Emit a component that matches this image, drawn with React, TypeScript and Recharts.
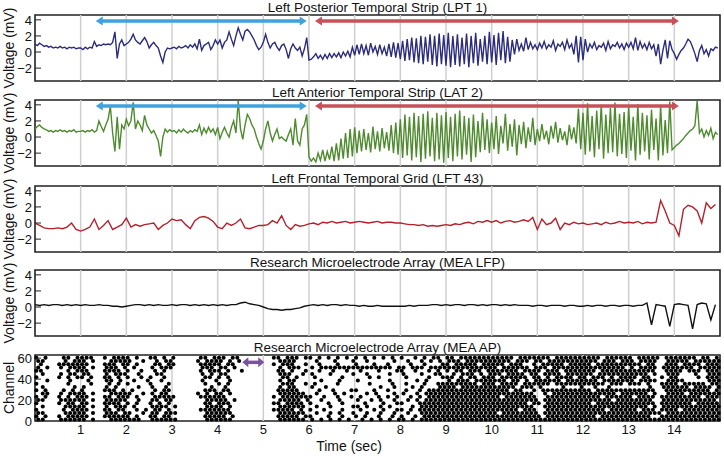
import React from "react";
import {
  LineChart,
  Line,
  ScatterChart,
  Scatter,
  XAxis,
  YAxis,
  ReferenceLine,
  ReferenceArea,
} from "recharts";

// time axis
const SECONDS = [1, 2, 3, 4, 5, 6, 7, 8, 9, 10, 11, 12, 13, 14];
const TIME_DOMAIN = [0, 15];
const VOLT_TICKS = [-2, 0, 2, 4];
const VOLT_DOMAIN = [-3.6, 4.6];
const CHANNEL_TICKS = [0, 20, 40, 60];
const CHANNEL_DOMAIN = [0, 63];

// sample spacing (sec) of the hand-read traces
const DT_FAST = 0.05;
const DT_SLOW = 0.1;

// Left Posterior Temporal Strip (LPT 1), one row per second
const LPT1 = [
  1.0, 0.8, 1.1, 0.9, 0.7, 0.8, 0.6, 0.7, 0.5, 0.6, 0.5, 0.7, 0.5, 0.6, 0.4, 0.6, 0.5, 0.6, 0.4, 0.5,
  0.5, 0.3, 0.6, 0.4, 0.6, 0.5, 1.3, 0.7, 0.9, 0.8, 1.0, 0.9, 1.0, 0.9, 1.2, 2.5, -0.8, 1.0, 1.5, 0.8,
  1.0, 1.2, 1.6, 2.2, 1.5, 1.2, 1.0, 1.4, 1.8, 1.3, 0.5, 0.9, 1.2, 0.8, 0.5, -0.5, -1.3, 0.0, 0.5, 0.4,
  0.5, 0.6, 0.4, 0.7, 0.5, 0.6, 0.8, 0.5, 0.9, 0.6, 1.0, 0.4, 1.6, 0.2, 0.8, 1.0, 1.2, 0.3, 0.8, 1.5,
  1.0, 1.5, 0.5, 1.2, 1.5, 2.5, 1.6, 0.8, 2.0, 3.0, 2.2, 1.5, 2.6, 2.8, 2.5, 2.0, 1.5, 0.8, 0.3, 0.6,
  1.2, 2.2, 1.2, 0.5, 1.0, 1.2, 0.6, 0.2, 0.8, 1.0, 0.3, -0.8, 0.4, 1.0, 0.5, 0.2, 0.6, -0.5, 0.4, 1.8,
  -1.0, -0.9, -0.6, -0.2, -0.8, -0.4, -0.9, -0.3, -0.8, -0.2, -0.7, -0.2, -0.6, -0.1, -0.7, 0.0, -0.5, 0.1, -0.6, 0.6,
  -0.4, 0.9, -0.3, 1.0, -0.2, 0.8, -0.4, 1.1, 0.0, 0.7, -0.3, 0.9, -0.2, 0.6, -0.5, 1.0, -0.6, 1.2, -0.7, 1.1,
  -0.9, 1.4, -1.1, 1.6, -1.0, 1.8, -1.3, 1.7, -1.4, 2.0, -1.5, 1.9, -1.2, 2.2, -1.6, 2.0, -1.8, 2.3, -1.5, 2.1,
  -1.7, 2.4, -1.9, 2.0, -1.6, 2.2, -1.8, 1.8, -1.5, 2.3, -1.9, 2.0, -1.4, 2.4, -1.7, 1.6, -1.2, 2.0, -1.5, 2.5,
  -1.3, 2.1, -1.6, 2.4, -1.0, 2.6, -1.4, 1.9, -1.2, 1.5, -0.3, 1.6, 0.2, 1.0, 0.1, 1.8, 0.3, 1.2, 0.4, 0.9,
  0.3, 1.1, 0.5, 1.3, 0.4, 0.9, 0.6, 1.4, 0.2, 1.0, 0.7, 1.2, 0.3, 1.5, 0.5, 1.0, -0.3, 2.0, -1.3, 1.9,
  -1.0, 1.6, 0.0, 1.0, 0.5, 1.2, 0.3, 0.8, 0.6, 1.1, 0.2, 1.3, 0.4, 0.9, 0.7, 1.2, 0.5, 1.0, 0.3, 1.1,
  0.6, 1.2, 0.4, 1.8, 0.2, 1.3, 0.5, 1.0, 0.3, 1.2, 0.4, 0.9, -0.5, 1.0, -1.5, 0.2, 1.5, -0.8, 1.4, 0.3,
  -0.2, -0.9, -0.3, 0.2, 0.5, 1.0, 1.6, 1.3, 0.6, -0.2, -1.2, 0.2, 0.8, -0.2, 0.3, -0.5, 0.4, 0.2, 0.6, 0.5,
];

// Left Anterior Temporal Strip (LAT 2)
const LAT2 = [
  1.0, 1.3, 1.5, 1.2, 1.0, 0.9, 0.7, 0.8, 0.6, 0.8, 0.7, 0.9, 0.7, 0.8, 0.6, 0.8, 0.7, 0.9, 0.6, 0.7,
  0.7, 0.8, 0.6, 0.8, 0.7, 0.9, 0.6, 0.8, 2.0, 1.3, 0.7, 1.5, 2.2, 3.8, 0.5, -1.8, 2.5, -1.5, 1.5, 1.0,
  2.2, 1.4, 2.0, 4.3, 1.0, 2.0, 1.5, 0.8, 2.7, 1.5, 1.0, 0.5, 0.8, 0.2, -0.5, -2.4, 0.0, 1.0, 0.6, 0.9,
  0.7, 0.8, 0.5, 0.9, 0.6, 1.0, 0.7, 0.5, 0.8, 0.6, 0.9, 0.7, 1.5, 0.3, 1.1, 0.5, 1.2, 0.6, 1.0, 0.3,
  1.2, -0.2, 0.6, 1.2, 0.5, 0.0, 1.2, 2.0, 0.5, 4.5, 1.0, -0.3, 1.5, 2.8, 2.3, 1.5, 1.0, 0.0, -0.8, -1.5,
  -0.5, 1.0, 2.0, 0.5, -0.5, 0.3, 1.0, -0.2, 0.0, -0.3, -0.5, 0.3, 1.0, -1.0, 2.3, -0.5, -1.0, 1.0, 1.5, 2.8,
  -2.5, -3.0, -2.6, -3.1, -2.0, -2.9, -1.6, -3.0, -1.8, -2.8, -1.2, -3.0, -0.8, -2.9, -0.2, -2.7, 0.5, -2.6, 1.0, -2.4,
  1.2, -2.0, 0.8, -1.8, 1.0, -1.6, 0.5, -1.9, 1.3, -1.5, 0.7, -1.8, 1.1, -1.4, 0.6, -1.7, 1.5, -2.0, 1.8, -2.2,
  2.2, -2.6, 2.8, -2.3, 2.5, -2.9, 3.0, -2.5, 2.6, -3.1, 2.9, -2.7, 3.2, -2.4, 2.4, -3.0, 3.0, -2.8, 2.7, -3.2,
  3.1, -2.6, 2.5, -3.0, 2.9, -2.4, 3.3, -2.8, 2.6, -2.2, 2.4, -3.1, 2.8, -2.5, 2.0, -1.9, 3.0, -1.6, 2.2, -2.0,
  1.8, -1.5, 2.6, -2.1, 1.4, -0.8, 2.9, -1.7, 1.6, -1.2, 2.2, -2.3, 1.5, -0.9, 1.9, -1.4, 1.2, -0.6, 2.4, -1.0,
  1.0, -0.5, 1.6, -0.3, 0.8, -0.9, 1.4, -0.2, 1.9, -0.7, 1.1, -0.4, 0.7, -1.0, 1.5, -0.3, 1.2, -0.8, 3.5, -1.5,
  3.0, -2.2, 4.2, -1.8, 2.6, -2.5, 3.3, -1.5, 4.0, -2.7, 2.8, -2.0, 3.6, -1.9, 4.3, -2.4, 2.9, -2.1, 3.1, -2.6,
  3.8, -1.7, 2.5, -2.9, 4.1, -2.2, 3.0, -1.8, 2.7, -2.8, 3.4, -1.6, 2.3, -2.9, 3.9, -2.3, 2.1, -2.0, 4.4, -1.6,
  -1.3, -1.0, -0.8, -0.5, -0.2, 0.2, 0.5, 0.8, 1.0, 1.4, 4.5, 0.5, 1.0, 0.0, 0.8, 0.2, 1.1, -0.2, 0.6, 0.3,
];

// Left Frontal Temporal Grid (LFT 43)
const LFT43 = [
  0.0, -0.3, -0.6, -0.7, -0.7, -0.6, -0.7, -0.5, 0.0, -0.8,
  -1.0, -0.8, -0.5, 0.5, -0.8, -0.3, 0.3, -0.8, -0.5, -0.2,
  0.6, -0.5, -0.2, -0.4, -0.2, -0.1, 0.0, -0.8, -0.3, 0.0,
  0.5, 0.3, 0.4, -0.2, -0.7, 0.3, 0.7, 0.8, 0.6, 0.2,
  -0.5, -0.7, 0.0, -0.3, 0.0, 0.5, -0.6, -0.7, -0.5, -0.3,
  -0.3, -0.2, 0.3, 0.0, 0.9, -0.3, -0.8, -0.2, -0.4, -0.3,
  -0.1, 0.0, -0.2, 0.1, 0.0, 0.2, 0.0, 0.1, 0.2, 0.0,
  0.1, 0.2, 0.1, 0.0, 0.1, 0.2, 0.0, 0.1, 0.1, 0.0,
  0.0, -0.1, -0.2, -0.2, -0.3, -0.2, -0.4, -0.3, -0.4, -0.3,
  -0.2, -0.3, -0.1, -0.2, 0.0, 0.1, -0.1, 0.2, 0.1, 0.3,
  0.1, 0.3, 0.0, 0.2, 0.3, 0.1, 0.2, 0.4, 0.2, 0.7,
  -0.8, 0.5, -0.2, 0.0, 0.6, -0.8, 0.0, -0.2, 0.1, -0.1,
  0.0, -0.2, -0.1, 0.0, -0.2, 0.1, -0.1, 0.0, 0.2, 0.0,
  0.1, 0.0, 0.2, -0.1, 0.1, 0.0, 0.1, 2.8, 1.5, 0.0,
  -0.3, -1.6, 1.7, 2.2, 2.0, 1.5, 0.0, 2.5, 1.8, 2.3,
];

// Research Microelectrode Array (MEA LFP)
const MEA_LFP = [
  0.3, 0.2, 0.3, 0.2, 0.3, 0.3, 0.2, 0.3, 0.2, 0.3,
  0.2, 0.3, 0.2, 0.2, 0.3, 0.2, 0.2, 0.1, 0.1, 0.0,
  0.1, 0.2, 0.3, 0.3, 0.2, 0.3, 0.2, 0.3, 0.2, 0.2,
  0.3, 0.2, 0.3, 0.3, 0.2, 0.3, 0.2, 0.3, 0.2, 0.3,
  0.2, 0.3, 0.2, 0.3, 0.3, 0.5, 0.6, 0.4, 0.3, 0.2,
  0.0, -0.2, -0.3, -0.3, -0.4, -0.3, -0.3, -0.2, -0.1, 0.1,
  0.2, 0.3, 0.2, 0.3, 0.2, 0.3, 0.3, 0.2, 0.3, 0.2,
  0.2, 0.1, 0.2, 0.1, 0.1, 0.2, 0.1, 0.1, 0.1, 0.1,
  0.1, 0.1, 0.2, 0.1, 0.2, 0.2, 0.2, 0.3, 0.3, 0.2,
  0.3, 0.2, 0.3, 0.3, 0.2, 0.3, 0.3, 0.2, 0.3, 0.2,
  0.3, 0.3, 0.2, 0.3, 0.2, 0.3, 0.2, 0.2, 0.2, 0.1,
  0.2, 0.2, 0.1, 0.2, 0.2, 0.2, 0.1, 0.2, 0.2, 0.1,
  0.1, 0.2, 0.1, 0.2, 0.2, 0.1, 0.2, 0.2, 0.1, 0.2,
  0.2, 0.1, 0.2, 0.2, 0.5, -2.2, 0.3, 0.2, 0.1, -2.4,
  0.3, 0.4, 0.3, 0.2, -2.7, 0.3, 0.5, 0.4, -1.6, 0.3,
];

// MEA AP raster: one string per band of 3 channels (top = ch 60), 0.1 s bins, '#' = spike
const SPIKE_ROWS = [
  "#.#...##.#|###..#.###|#.#..##.#.|#.....##.#|##.##.....|..##.###.#|#.#.#.#.#.|#.#.#.#.#.|#..#.#.##.|##.#######|#####.####|###.######|####.#####|#.#####.##|#####.##.#",
  "##....#.##|#.#...####|#..#..#.##|.....#.###|#.#.#.....|...####...|.#...#...#|..#.....#.|.#..#.#.#.|###.######|####.###.#|#.########|###.###.##|#.####..##|###.######",
  ".#...#####|##...###.#|#.#...##.#|#.....####|#.##......|..#.###..#|..#...#...|#...#..#..|..#..#...#|#.#####.##|###.###..#|.#####.###|##.#######|###.##..##|#.####.###",
  "#.#..#.###|#.#..###.#|.#...#.###|......###.|##.#......|...#.###..|#.########|########.#|#.###.####|##########|#.######.#|##.#######|#########.|#.####.###|####.#####",
  "##.....#.#|##...####.|#..#..#.#.|......#.##|#.#..#....|...##.#..#|..#..#..#.|.#...#...#|#..#..#.#.|#.##.###.#|######.###|#.###.####|###.######|######..##|##.###.###",
  ".#...#.##.|##...#.###|..#...##..|......#.#.|##........|...###..#.|#...#....#|..#....#..|#...#..##.|.#.###.#.#|##.####.##|.####.####|##.#######|####.#..##|#...#..###",
  "#....#.#.#|#.#..##.#.|#..#.#..#.|.......##.|#.#.......|....##.#..|.#.....#..|...#.#....|.#....#..#|##.#.##.##|#.######.#|#.#.####.#|#.###.#.##|##.##..#.#|#....#.###",
  "..#....#..|.#...##.#.|.#..#..#..|......#..#|..#.......|...#.##...|..#...#...|#......#..|...#.#....|#.###.####|###.##.#.#|#####.####|###.######|#.####..##|##.....###",
  "#......#..|..#...#.#.|#....#...#|.......#..|#.#.......|....###..#|.#....#...|...#....#.|.#...#..##|#######.##|#.####.###|###.######|#####.###.|###.#..###|#.#####.##",
  ".#......#.|#....#.#..|..#..#..#.|........#.|.#........|...#.##...|#..#......|.....#..#.|..#.#...##|##.#######|#####.###.|#....#...#|..#..#....|....#..###|###.####.#",
  "#.#...#.#.|#....###.#|.#....#.##|.......###|.##.......|...#####..|..#..#...#|#...#..#..|.#..#.####|##########|####.##..#|.#########|##.#######|######..##|########.#",
  ".##..#.###|#.#...####|#..#.#.##.|.....#.#.#|#.#.......|...######.|.#...#.#..|..#.#...#.|#..#.#####|##########|#########.|.#.#######|#######.##|####.#..##|##.#######",
  "#.#..#.#.#|##...##.##|#.#...####|#.....####|##........|..#.######|#..#..#..#|.#...#.#.#|..#.#.####|##########|##.#######|..########|####.#####|#.####.###|######.###",
  "##...#####|#.#..#####|..#..##.##|.......###|##.#......|...#####.#|..#...#...|#..#.#..#.|.#.#.#####|##########|##########|.#########|######.###|#####..###|#########.",
  "#....#.##.|##...####.|#.#..#.#.#|.......##.|###.......|..##.####.|#...#..#..|..#...#..#|#...######|##########|########.#|#.########|##.#######|######.###|####.#####",
  ".#....####|#.#..#.###|.#...####.|#......###|#.#.......|...######.|.#..#....#|#.#..#.#..|..#.######|##########|#########.|.#########|##########|####.#.###|##########",
  "#.....#.##|##...##.##|..#.#.##.#|......####|###.......|..#####.#.|#..#...#..|.#..#.#..#|#.#.######|##########|######.###|..########|#####.####|##.###.###|#.########",
  "##....####|#.#..###.#|#..#.##.##|#......###|###.......|...######.|.#..#.#..#|..#..#..#.|.#..######|##########|#.########|.#########|##########|#######.##|##########",
  "#.#..#.###|##...#####|#.#..##.##|.......###|##.#......|...#####.#|#...#..#..|#.#..#..#.|#..#.#####|##########|##########|#.########|###.######|#####..###|##########",
  "##...#####|#.#...####|###..#####|#......###|###.......|...######.|#.#.#.#.#.|.#.#.#.#.#|#.#.######|##########|##########|##########|##########|##########|##########",
];
const SPIKE_BIN = 0.1;
const CHANNELS_PER_ROW = 3.1;

// arrows: [start sec, end sec] and height
const BLUE_SPAN = [1.33, 5.95];
const RED_SPAN = [6.13, 14.1];
const ARROW_LEVEL = 3.85;
const PURPLE_SPAN = [4.54, 5.02];
const PURPLE_CHANNEL = 56;

const FONT = '"Liberation Sans", Arial, Helvetica, sans-serif';
const BLUE = "#3ea2de";
const RED = "#c9505a";
const PURPLE = "#7b52a0";
const FRAME = "#222";
const GRID = "#cfcfcf";

const PLOT_H = 66;
const PAD = 3;

const toSeries = (values: number[], dt: number) =>
  values.map((v, i) => ({ t: Math.round(i * dt * 100) / 100, v }));

// every other band is drawn a bit later in its bin so the dots don't sit on a square grid
const spikes = SPIKE_ROWS.flatMap((row, r) =>
  row
    .replace(/\|/g, "")
    .split("")
    .map((c, i) =>
      c === "#"
        ? {
            t: i * SPIKE_BIN + (r % 2 ? 0.07 : 0.03),
            ch: (SPIKE_ROWS.length - 1 - r) * CHANNELS_PER_ROW + 1.5,
          }
        : null
    )
    .filter((p): p is { t: number; ch: number } => p !== null)
);

const fmtTick = (v: number) => (v < 0 ? `\u2212${-v}` : `${v}`);

const leftTick = (props: any) => {
  const { x, y, payload } = props;
  return (
    <g>
      <line x1={x} x2={x + 6} y1={y} y2={y} stroke={FRAME} strokeWidth={1} />
      <text x={x - 3} y={y} dy="0.36em" textAnchor="end" fontSize={13} fill="#111" fontFamily={FONT}>
        {fmtTick(payload.value)}
      </text>
    </g>
  );
};

const rightTick = (props: any) => {
  const { x, y } = props;
  return <line x1={x - 6} x2={x} y1={y} y2={y} stroke={FRAME} strokeWidth={1} />;
};

const arrowShape = (color: string, head: number, half: number, shaft: number) => (p: any) => {
  const { x1, x2, y1 } = p;
  return (
    <g>
      <line x1={x1 + head - 1} x2={x2 - head + 1} y1={y1} y2={y1} stroke={color} strokeWidth={shaft} />
      <polygon points={`${x1},${y1} ${x1 + head},${y1 - half} ${x1 + head},${y1 + half}`} fill={color} />
      <polygon points={`${x2},${y1} ${x2 - head},${y1 - half} ${x2 - head},${y1 + half}`} fill={color} />
    </g>
  );
};

function Title({ top, text }: { top: number; text: string }) {
  return (
    <div
      style={{
        position: "absolute",
        left: 35,
        width: 685,
        top: top - 15,
        height: 15,
        lineHeight: "15px",
        textAlign: "center",
        fontSize: 13.5,
        color: "#111",
      }}
    >
      {text}
    </div>
  );
}

function SideLabel({ center, text }: { center: number; text: string }) {
  return (
    <div
      style={{
        position: "absolute",
        left: 9 - 60,
        top: center - 9,
        width: 120,
        height: 18,
        lineHeight: "18px",
        textAlign: "center",
        fontSize: 14,
        color: "#111",
        transform: "rotate(-90deg)",
      }}
    >
      {text}
    </div>
  );
}

const secondLines = SECONDS.map((s) => (
  <ReferenceLine key={s} x={s} stroke={GRID} strokeWidth={1.5} />
));

function TracePanel({
  top,
  title,
  values,
  dt,
  color,
  arrows,
}: {
  top: number;
  title: string;
  values: number[];
  dt: number;
  color: string;
  arrows: boolean;
}) {
  const data = toSeries(values, dt);
  return (
    <>
      <Title top={top} text={title} />
      <SideLabel center={top + PLOT_H / 2} text="Voltage (mV)" />
      <div style={{ position: "absolute", left: 0, top: top - PAD }}>
        <LineChart
          width={724}
          height={PLOT_H + 2 * PAD}
          data={data}
          margin={{ top: PAD, right: 4, bottom: PAD, left: 0 }}
        >
          <XAxis
            dataKey="t"
            type="number"
            domain={TIME_DOMAIN}
            ticks={SECONDS}
            tick={false}
            tickLine={false}
            axisLine={false}
            height={0}
          />
          <YAxis
            type="number"
            domain={VOLT_DOMAIN}
            ticks={VOLT_TICKS}
            interval={0}
            width={35}
            tickSize={0}
            tickMargin={0}
            tickLine={false}
            axisLine={false}
            tick={leftTick}
            allowDataOverflow
          />
          <YAxis
            yAxisId="right"
            orientation="right"
            type="number"
            domain={VOLT_DOMAIN}
            ticks={VOLT_TICKS}
            interval={0}
            width={0}
            tickSize={0}
            tickMargin={0}
            tickLine={false}
            axisLine={false}
            tick={rightTick}
          />
          {secondLines}
          <Line
            dataKey="v"
            type="linear"
            stroke={color}
            strokeWidth={1.4}
            dot={false}
            isAnimationActive={false}
          />
          {arrows && (
            <ReferenceLine
              segment={[
                { x: BLUE_SPAN[0], y: ARROW_LEVEL },
                { x: BLUE_SPAN[1], y: ARROW_LEVEL },
              ]}
              shape={arrowShape(BLUE, 7, 4.5, 3.5)}
            />
          )}
          {arrows && (
            <ReferenceLine
              segment={[
                { x: RED_SPAN[0], y: ARROW_LEVEL },
                { x: RED_SPAN[1], y: ARROW_LEVEL },
              ]}
              shape={arrowShape(RED, 7, 4.5, 3.5)}
            />
          )}
          <ReferenceArea
            x1={TIME_DOMAIN[0]}
            x2={TIME_DOMAIN[1]}
            y1={VOLT_DOMAIN[0]}
            y2={VOLT_DOMAIN[1]}
            fill="none"
            stroke={FRAME}
            strokeWidth={1.6}
            ifOverflow="visible"
          />
        </LineChart>
      </div>
    </>
  );
}

function RasterPanel({ top }: { top: number }) {
  return (
    <>
      <Title top={top} text="Research Microelectrode Array (MEA AP)" />
      <SideLabel center={top + PLOT_H / 2} text="Channel" />
      <div style={{ position: "absolute", left: 0, top: top - PAD }}>
        <ScatterChart
          width={724}
          height={PLOT_H + PAD + 22}
          margin={{ top: PAD, right: 4, bottom: 0, left: 0 }}
        >
          <XAxis
            dataKey="t"
            type="number"
            domain={TIME_DOMAIN}
            ticks={SECONDS}
            interval={0}
            tickSize={0}
            tickMargin={4}
            tickLine={false}
            axisLine={false}
            height={22}
            tick={{ fontSize: 13, fill: "#111", fontFamily: FONT }}
          />
          <YAxis
            dataKey="ch"
            type="number"
            domain={CHANNEL_DOMAIN}
            ticks={CHANNEL_TICKS}
            interval={0}
            width={35}
            tickSize={0}
            tickMargin={0}
            tickLine={false}
            axisLine={false}
            tick={leftTick}
          />
          <YAxis
            yAxisId="right"
            orientation="right"
            type="number"
            domain={CHANNEL_DOMAIN}
            ticks={CHANNEL_TICKS}
            interval={0}
            width={0}
            tickSize={0}
            tickMargin={0}
            tickLine={false}
            axisLine={false}
            tick={rightTick}
          />
          {secondLines}
          <Scatter
            data={spikes}
            fill="#000"
            isAnimationActive={false}
            shape={(p: any) => <circle cx={p.cx} cy={p.cy} r={2.05} fill="#000" />}
          />
          <ReferenceLine
            segment={[
              { x: PURPLE_SPAN[0], y: PURPLE_CHANNEL },
              { x: PURPLE_SPAN[1], y: PURPLE_CHANNEL },
            ]}
            shape={arrowShape(PURPLE, 6, 5, 3.5)}
          />
          <ReferenceArea
            x1={TIME_DOMAIN[0]}
            x2={TIME_DOMAIN[1]}
            y1={CHANNEL_DOMAIN[0]}
            y2={CHANNEL_DOMAIN[1]}
            fill="none"
            stroke={FRAME}
            strokeWidth={1.6}
            ifOverflow="visible"
          />
        </ScatterChart>
      </div>
    </>
  );
}

export default function App() {
  return (
    <div
      style={{
        position: "absolute",
        left: 0,
        top: 0,
        width: 724,
        height: 456,
        background: "#fff",
        overflow: "hidden",
        fontFamily: FONT,
      }}
    >
      <TracePanel top={15} title="Left Posterior Temporal Strip (LPT 1)" values={LPT1} dt={DT_FAST} color="#2c2c7c" arrows />
      <TracePanel top={100} title="Left Anterior Temporal Strip (LAT 2)" values={LAT2} dt={DT_FAST} color="#4e8a2e" arrows />
      <TracePanel top={186} title="Left Frontal Temporal Grid (LFT 43)" values={LFT43} dt={DT_SLOW} color="#b4202c" arrows={false} />
      <TracePanel top={270} title="Research Microelectrode Array (MEA LFP)" values={MEA_LFP} dt={DT_SLOW} color="#111" arrows={false} />
      <RasterPanel top={355} />
      <div
        style={{
          position: "absolute",
          left: 299,
          width: 100,
          top: 438,
          height: 17,
          lineHeight: "17px",
          textAlign: "center",
          fontSize: 14,
          color: "#111",
        }}
      >
        Time (sec)
      </div>
    </div>
  );
}
